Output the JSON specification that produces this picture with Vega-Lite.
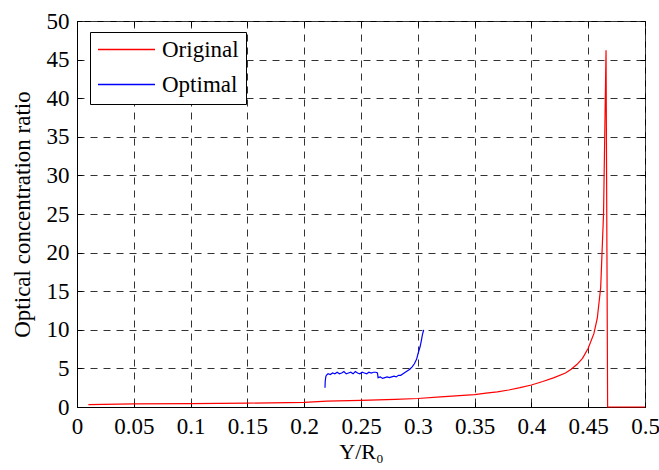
{
  "$schema": "https://vega.github.io/schema/vega-lite/v6.json",
  "autosize": {"type": "none"},
  "padding": {"left": 77, "top": 21, "right": 14, "bottom": 63},
  "width": 568,
  "height": 386,
  "background": "white",
  "config": {
    "font": "Liberation Serif",
    "view": {"stroke": "black", "strokeWidth": 1},
    "axis": {
      "domainColor": "black",
      "tickColor": "black",
      "tickSize": -5,
      "labelColor": "black",
      "titleColor": "black",
      "labelFont": "Liberation Serif",
      "titleFont": "Liberation Serif",
      "labelFontSize": 23,
      "titleFontSize": 23,
      "titleFontWeight": "normal",
      "labelFlush": false,
      "gridColor": "#333333",
      "gridDash": [7, 6],
      "gridOpacity": 1,
      "gridWidth": 1
    }
  },
  "data": {
    "values": [
      {"series": "Original", "x": 0.01, "y": 0.3},
      {"series": "Original", "x": 0.05, "y": 0.4},
      {"series": "Original", "x": 0.1, "y": 0.45},
      {"series": "Original", "x": 0.15, "y": 0.5},
      {"series": "Original", "x": 0.2, "y": 0.6},
      {"series": "Original", "x": 0.22, "y": 0.75},
      {"series": "Original", "x": 0.25, "y": 0.85},
      {"series": "Original", "x": 0.28, "y": 1.0},
      {"series": "Original", "x": 0.3, "y": 1.1},
      {"series": "Original", "x": 0.32, "y": 1.3},
      {"series": "Original", "x": 0.34, "y": 1.5},
      {"series": "Original", "x": 0.35, "y": 1.6},
      {"series": "Original", "x": 0.36, "y": 1.8},
      {"series": "Original", "x": 0.37, "y": 1.95},
      {"series": "Original", "x": 0.38, "y": 2.2},
      {"series": "Original", "x": 0.39, "y": 2.5},
      {"series": "Original", "x": 0.4, "y": 2.85},
      {"series": "Original", "x": 0.41, "y": 3.3},
      {"series": "Original", "x": 0.42, "y": 3.8},
      {"series": "Original", "x": 0.43, "y": 4.4},
      {"series": "Original", "x": 0.435, "y": 4.9},
      {"series": "Original", "x": 0.44, "y": 5.5},
      {"series": "Original", "x": 0.445, "y": 6.3},
      {"series": "Original", "x": 0.45, "y": 7.6},
      {"series": "Original", "x": 0.455, "y": 9.5},
      {"series": "Original", "x": 0.458, "y": 11.5},
      {"series": "Original", "x": 0.461, "y": 15.5},
      {"series": "Original", "x": 0.4635, "y": 25},
      {"series": "Original", "x": 0.4657, "y": 46.2},
      {"series": "Original", "x": 0.4671, "y": 0},
      {"series": "Original", "x": 0.5, "y": 0},
      {"series": "Optimal", "x": 0.2183, "y": 2.5},
      {"series": "Optimal", "x": 0.2185, "y": 3.3},
      {"series": "Optimal", "x": 0.219, "y": 3.9},
      {"series": "Optimal", "x": 0.2195, "y": 4.1},
      {"series": "Optimal", "x": 0.221, "y": 4.3},
      {"series": "Optimal", "x": 0.223, "y": 4.2},
      {"series": "Optimal", "x": 0.225, "y": 4.4},
      {"series": "Optimal", "x": 0.227, "y": 4.3},
      {"series": "Optimal", "x": 0.229, "y": 4.5},
      {"series": "Optimal", "x": 0.231, "y": 4.3},
      {"series": "Optimal", "x": 0.233, "y": 4.4},
      {"series": "Optimal", "x": 0.235, "y": 4.6},
      {"series": "Optimal", "x": 0.237, "y": 4.3},
      {"series": "Optimal", "x": 0.239, "y": 4.4},
      {"series": "Optimal", "x": 0.241, "y": 4.5},
      {"series": "Optimal", "x": 0.243, "y": 4.3},
      {"series": "Optimal", "x": 0.245, "y": 4.6},
      {"series": "Optimal", "x": 0.247, "y": 4.4},
      {"series": "Optimal", "x": 0.249, "y": 4.3},
      {"series": "Optimal", "x": 0.251, "y": 4.5},
      {"series": "Optimal", "x": 0.253, "y": 4.4},
      {"series": "Optimal", "x": 0.255, "y": 4.3},
      {"series": "Optimal", "x": 0.257, "y": 4.5},
      {"series": "Optimal", "x": 0.259, "y": 4.4},
      {"series": "Optimal", "x": 0.261, "y": 4.5},
      {"series": "Optimal", "x": 0.263, "y": 4.5},
      {"series": "Optimal", "x": 0.2645, "y": 4.4},
      {"series": "Optimal", "x": 0.265, "y": 3.8},
      {"series": "Optimal", "x": 0.267, "y": 3.9},
      {"series": "Optimal", "x": 0.269, "y": 3.7},
      {"series": "Optimal", "x": 0.271, "y": 3.8},
      {"series": "Optimal", "x": 0.273, "y": 3.9},
      {"series": "Optimal", "x": 0.275, "y": 3.8},
      {"series": "Optimal", "x": 0.277, "y": 3.9},
      {"series": "Optimal", "x": 0.279, "y": 4.0},
      {"series": "Optimal", "x": 0.281, "y": 3.9},
      {"series": "Optimal", "x": 0.283, "y": 4.1},
      {"series": "Optimal", "x": 0.285, "y": 4.1},
      {"series": "Optimal", "x": 0.287, "y": 4.3},
      {"series": "Optimal", "x": 0.289, "y": 4.5},
      {"series": "Optimal", "x": 0.291, "y": 4.7},
      {"series": "Optimal", "x": 0.293, "y": 4.9},
      {"series": "Optimal", "x": 0.295, "y": 5.2},
      {"series": "Optimal", "x": 0.297, "y": 5.6},
      {"series": "Optimal", "x": 0.299, "y": 6.2},
      {"series": "Optimal", "x": 0.3, "y": 6.8},
      {"series": "Optimal", "x": 0.301, "y": 7.3},
      {"series": "Optimal", "x": 0.302, "y": 7.8},
      {"series": "Optimal", "x": 0.303, "y": 8.5},
      {"series": "Optimal", "x": 0.304, "y": 9.3},
      {"series": "Optimal", "x": 0.305, "y": 9.9},
      {"series": "Optimal", "x": 0.3052, "y": 10.0}
    ]
  },
  "layer": [
    {
      "mark": {"type": "line", "opacity": 0},
      "encoding": {
        "x": {
          "field": "x",
          "type": "quantitative",
          "scale": {"domain": [0, 0.5], "nice": false, "zero": false},
          "axis": {
            "orient": "top",
            "title": null,
            "labels": false,
            "grid": false,
            "domain": false,
            "values": [0, 0.05, 0.1, 0.15, 0.2, 0.25, 0.3, 0.35, 0.4, 0.45, 0.5]
          }
        },
        "y": {
          "field": "y",
          "type": "quantitative",
          "scale": {"domain": [0, 50], "nice": false},
          "axis": {
            "orient": "right",
            "title": null,
            "labels": false,
            "grid": false,
            "domain": false,
            "values": [0, 5, 10, 15, 20, 25, 30, 35, 40, 45, 50]
          }
        },
        "detail": {"field": "series", "type": "nominal"}
      }
    },
    {
      "mark": {"type": "line", "strokeWidth": 1.2, "interpolate": "linear"},
      "encoding": {
        "x": {
          "field": "x",
          "type": "quantitative",
          "scale": {"domain": [0, 0.5], "nice": false, "zero": false},
          "axis": {
            "title": "Y/R₀",
            "grid": true,
            "values": [0, 0.05, 0.1, 0.15, 0.2, 0.25, 0.3, 0.35, 0.4, 0.45, 0.5],
            "labelExpr": "datum.value == 0 ? '0' : format(datum.value, '.2~f')",
            "labelFlush": false,
            "labelPadding": 13,
            "titlePadding": 3,
            "titleFontSize": 22
          }
        },
        "y": {
          "field": "y",
          "type": "quantitative",
          "scale": {"domain": [0, 50], "nice": false},
          "axis": {
            "title": "Optical concentration ratio",
            "grid": true,
            "values": [0, 5, 10, 15, 20, 25, 30, 35, 40, 45, 50],
            "labelPadding": 13,
            "titlePadding": 12
          }
        },
        "color": {
          "field": "series",
          "type": "nominal",
          "scale": {"domain": ["Original", "Optimal"], "range": ["#ff0000", "#0000ff"]},
          "legend": {
            "title": null,
            "orient": "none",
            "legendX": 13,
            "legendY": 11,
            "strokeColor": "black",
            "fillColor": "white",
            "padding": 7,
            "symbolType": "stroke",
            "symbolSize": 3250,
            "symbolStrokeWidth": 1.5,
            "clipHeight": 21,
            "labelFontSize": 23,
            "labelFont": "Liberation Serif",
            "labelColor": "black",
            "rowPadding": 11,
            "labelOffset": 6
          }
        },
        "order": {"field": "x", "type": "quantitative"}
      }
    }
  ],
  "resolve": {"axis": {"x": "independent", "y": "independent"}}
}
